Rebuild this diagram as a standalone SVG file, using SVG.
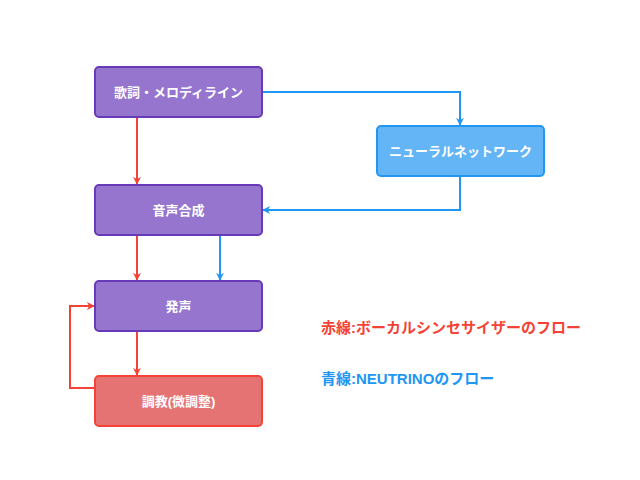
<svg xmlns="http://www.w3.org/2000/svg" width="640" height="480" viewBox="0 0 640 480">
<style>
.node rect{stroke-width:2}
.p rect{fill:#9575cd;stroke:#673ab7}
.b rect{fill:#64b5f6;stroke:#2196f3}
.r rect{fill:#e57373;stroke:#f44336}
.node text{fill:#fff;font-family:"Liberation Sans","Noto Sans CJK JP",sans-serif;font-weight:bold;font-size:13px;text-anchor:middle;dominant-baseline:central}
.e{fill:none;stroke-width:2}
.er{stroke:#f44336}
.eb{stroke:#2196f3}
.leg{font-family:"Liberation Sans","Noto Sans CJK JP",sans-serif;font-weight:bold;font-size:15px}
</style>
<defs>
<marker id="ar" viewBox="0 0 10 10" refX="9" refY="5" markerWidth="8" markerHeight="8" orient="auto" markerUnits="userSpaceOnUse"><path d="M0,0 L10,5 L0,10 L3,5 Z" fill="#f44336"/></marker>
<marker id="ab" viewBox="0 0 10 10" refX="9" refY="5" markerWidth="8" markerHeight="8" orient="auto" markerUnits="userSpaceOnUse"><path d="M0,0 L10,5 L0,10 L3,5 Z" fill="#2196f3"/></marker>
</defs>
<g id="connectors">
<path class="e er" d="M137,117 V184" marker-end="url(#ar)"/>
<path class="e er" d="M137,235 V280" marker-end="url(#ar)"/>
<path class="e eb" d="M220,235 V280" marker-end="url(#ab)"/>
<path class="e er" d="M137,331 V375" marker-end="url(#ar)"/>
<path class="e er" d="M95,388 H70 V306 H94" marker-end="url(#ar)"/>
<path class="e eb" d="M262,92 H460 V125" marker-end="url(#ab)"/>
<path class="e eb" d="M460,176 V210 H263" marker-end="url(#ab)"/>
</g>
<g id="lyrics" class="node p"><rect x="95" y="67" width="167" height="50" rx="4"/><text x="178.5" y="92">歌詞・メロディライン</text></g>
<g id="nn" class="node b"><rect x="377" y="126" width="167" height="50" rx="4"/><text x="460.5" y="151">ニューラルネットワーク</text></g>
<g id="synth" class="node p"><rect x="95" y="185" width="167" height="50" rx="4"/><text x="178.5" y="210">音声合成</text></g>
<g id="voice" class="node p"><rect x="95" y="281" width="167" height="50" rx="4"/><text x="178.5" y="306">発声</text></g>
<g id="tune" class="node r"><rect x="95" y="376" width="167" height="50" rx="4"/><text x="178.5" y="401">調教(微調整)</text></g>
<text class="leg" x="321" y="333" fill="#f44336">赤線:ボーカルシンセサイザーのフロー</text>
<text class="leg" x="321" y="384" fill="#2196f3">青線:NEUTRINOのフロー</text>
</svg>
